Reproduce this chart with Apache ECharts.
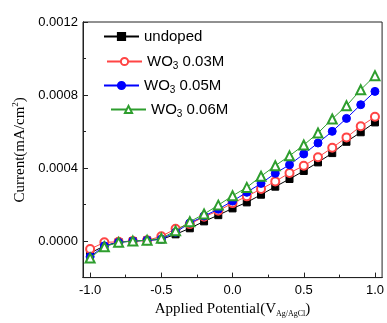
<!DOCTYPE html>
<html><head><meta charset="utf-8">
<script src="https://cdn.jsdelivr.net/npm/echarts@6/dist/echarts.min.js"></script>
<style>html,body{margin:0;padding:0;background:#fff}#c{width:387px;height:323px}</style>
</head><body><div id="c"></div>
<script>
const potentials = [-1.0,-0.9,-0.8,-0.7,-0.6,-0.5,-0.4,-0.3,-0.2,-0.1,0.0,0.1,0.2,0.3,0.4,0.5,0.6,0.7,0.8,0.9,1.0];
const undoped = [-6.6e-5,-2.6e-5,-0.5e-5,0,0.4e-5,0.9e-5,3.7e-5,7.0e-5,1.08e-4,1.42e-4,1.79e-4,2.12e-4,2.54e-4,2.98e-4,3.40e-4,3.84e-4,4.31e-4,4.82e-4,5.44e-4,5.96e-4,6.50e-4];
const wo3_003 = [-4.4e-5,-0.7e-5,-0.4e-5,0,0.4e-5,2.6e-5,6.7e-5,9.3e-5,1.33e-4,1.66e-4,2.08e-4,2.45e-4,2.85e-4,3.27e-4,3.73e-4,4.13e-4,4.59e-4,5.11e-4,5.68e-4,6.29e-4,6.81e-4];
const wo3_005 = [-8.6e-5,-2.6e-5,-0.7e-5,0,0.4e-5,1.1e-5,4.8e-5,9.9e-5,1.37e-4,1.75e-4,2.19e-4,2.67e-4,3.16e-4,3.71e-4,4.18e-4,4.77e-4,5.37e-4,6.01e-4,6.72e-4,7.47e-4,8.20e-4];
const wo3_006 = [-9.3e-5,-3.1e-5,-0.7e-5,0,0.5e-5,1.5e-5,5.6e-5,1.06e-4,1.48e-4,1.97e-4,2.48e-4,2.94e-4,3.55e-4,4.13e-4,4.67e-4,5.26e-4,5.92e-4,6.69e-4,7.41e-4,8.29e-4,9.06e-4];
const seriesNames = ['undoped','WO3 0.03M','WO3 0.05M','WO3 0.06M'];
const xTickLabels = [-1.0,-0.5,0.0,0.5,1.0];
const xMinorTicks = [-0.75,-0.25,0.25,0.75];
const yTickLabels = [0.0,0.0004,0.0008,0.0012];
const yMinorTicks = [-0.0002,0.0002,0.0006,0.0010];

const chart = echarts.init(document.getElementById('c'));
const sans = 'Liberation Sans, Arial, sans-serif';
const serif = 'Liberation Serif, Times New Roman, serif';
const colors = ['#000000','#ff4545','#0000ff','#2e9e2e'];
const symbols = ['rect','emptyCircle','circle','emptyTriangle'];
const symSizes = [7,8,8,9];
const datas = [undoped,wo3_003,wo3_005,wo3_006];
const legRich = {sub:{fontSize:10,fontFamily:sans,color:'#000',verticalAlign:'bottom',padding:[9,0,0,0]}};
const legPos = [[103,29],[106,54],[103,78],[110,102]];
const legends = seriesNames.map((n,i)=>({
  data:[n], left:legPos[i][0], top:legPos[i][1], itemWidth:35, itemHeight:9, padding:0,
  selectedMode:false,
  textStyle:{fontFamily:sans,fontSize:15,color:'#000',rich:legRich},
  formatter:(name)=>name.replace('WO3','WO{sub|3}')
}));
const common = (extra)=>Object.assign({
  axisLine:{show:true,onZero:false,lineStyle:{color:'#222',width:1}},
  splitLine:{show:false}
},extra);
chart.setOption({
  animation:false,
  legend:legends,
  grid:{left:83,right:2,top:22,bottom:45,show:true,borderColor:'#222',borderWidth:1},
  xAxis:[
    common({type:'value',min:-1.05,max:1.05,
      axisTick:{show:true,inside:true,length:5,customValues:xTickLabels,lineStyle:{color:'#222'}},
      axisLabel:{customValues:xTickLabels,fontFamily:sans,fontSize:13,color:'#000',margin:6,formatter:v=>v.toFixed(1)},
      name:'Applied Potential(V{sub|Ag/AgCl})',nameLocation:'middle',nameGap:22,
      nameTextStyle:{fontFamily:serif,fontSize:15,color:'#000',rich:{sub:{fontFamily:serif,fontSize:8,color:'#000',verticalAlign:'bottom',padding:[10,0,0,0]}}}
    }),
    common({type:'value',min:-1.05,max:1.05,gridIndex:0,position:'bottom',
      axisTick:{show:true,inside:true,length:3,customValues:xMinorTicks,lineStyle:{color:'#222'}},
      axisLabel:{show:false}})
  ],
  yAxis:[
    common({type:'value',min:-0.0002,max:0.0012,
      axisTick:{show:true,inside:true,length:5,customValues:yTickLabels,lineStyle:{color:'#222'}},
      axisLabel:{customValues:yTickLabels,fontFamily:sans,fontSize:13,color:'#000',margin:5,formatter:v=>v.toFixed(4)},
      name:'Current(mA/cm{sup|2})',nameLocation:'middle',nameGap:50,
      nameTextStyle:{fontFamily:serif,fontSize:15,color:'#000',rich:{sup:{fontFamily:serif,fontSize:9,color:'#000',verticalAlign:'top',padding:[0,0,8,0]}}}
    }),
    common({type:'value',min:-0.0002,max:0.0012,position:'left',
      axisTick:{show:true,inside:true,length:3,customValues:yMinorTicks,lineStyle:{color:'#222'}},
      axisLabel:{show:false}})
  ],
  series:datas.map((d,i)=>({
    name:seriesNames[i],type:'line',xAxisIndex:0,yAxisIndex:0,
    data:potentials.map((x,k)=>[x,d[k]]),
    symbol:symbols[i],symbolSize:symSizes[i],
    itemStyle:{color:colors[i],borderColor:colors[i],borderWidth:1},
    lineStyle:{color:colors[i],width:1},
    z:2+i
  }))
});
</script></body></html>
